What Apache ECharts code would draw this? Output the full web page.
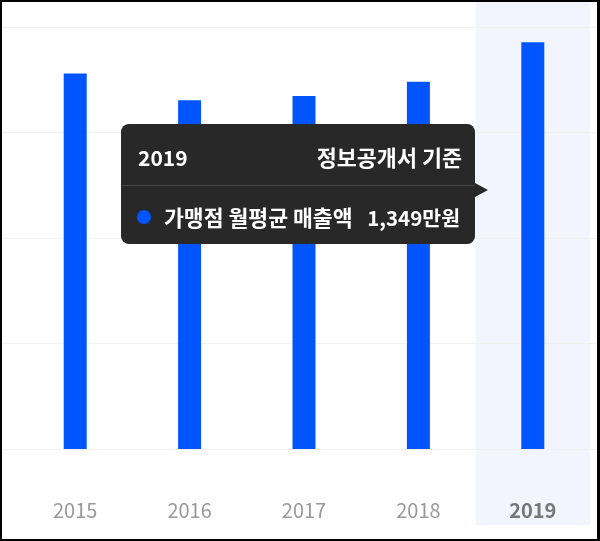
<!DOCTYPE html>
<html>
<head>
<meta charset="utf-8">
<script src="https://cdn.jsdelivr.net/npm/echarts@6/dist/echarts.min.js"></script>
<style>
  html, body { margin: 0; padding: 0; background: #fff; }
  #wrap { position: relative; width: 600px; height: 541px; }
  #chart { position: absolute; left: 0; top: 0; width: 600px; height: 541px; }
  #frame { position: absolute; left: 0; top: 0; width: 600px; height: 541px; box-sizing: border-box;
           border-style: solid; border-color: #000; border-width: 2px 3px 2px 2px; pointer-events: none; z-index: 99999; }
</style>
</head>
<body>
<div id="wrap"><div id="chart"></div><div id="frame"></div></div>
<script>
// ---- data ----
const categories = ['2015', '2016', '2017', '2018', '2019'];
const salesValues = [1246, 1157, 1171, 1218, 1349];
const seriesName = '가맹점 월평균 매출액';
const unitText = '만원';
const sourceText = '정보공개서 기준';
const highlightCategory = '2019';
const yTicks = [0, 350, 700, 1050, 1400];

const FONT = "'Noto Sans CJK KR', 'Noto Sans', sans-serif";
const BLUE = '#0055ff';
const TIP_BG = '#282828';
const hlIndex = categories.indexOf(highlightCategory);

const chart = echarts.init(document.getElementById('chart'));

function tipHtml(params) {
  const v = params.value.toLocaleString('en-US');
  return '<div style="position:relative;width:354px;box-sizing:border-box;font-family:' + FONT.replace(/"/g, '') + ';color:#fff;">' +
    '<div style="display:flex;justify-content:space-between;align-items:center;padding:20px 13px 15px 17px;line-height:26px;font-weight:700;border-bottom:1px solid #464646;">' +
      '<span style="font-size:21px;">' + params.name + '</span><span style="font-size:21.8px;white-space:nowrap;">' + sourceText + '</span></div>' +
    '<div style="display:flex;align-items:center;padding:18px 15px 14px 16px;line-height:26px;font-weight:700;">' +
      '<span style="display:inline-block;width:14px;height:14px;border-radius:50%;background:' + BLUE + ';margin-right:13px;flex:none;"></span>' +
      '<span style="flex:1;white-space:nowrap;font-size:21.6px;">' + params.seriesName + '</span>' +
      '<span style="white-space:nowrap;font-size:20.5px;">' + v + unitText + '</span></div>' +
    '<div style="position:absolute;right:-13px;top:59px;width:0;height:0;border-left:13px solid ' + TIP_BG + ';border-top:7px solid transparent;border-bottom:7px solid transparent;"></div>' +
  '</div>';
}

const option = {
  animation: false,
  textStyle: { fontFamily: FONT },
  grid: [
    { left: 2, right: 3, top: 27, bottom: 92 },   // gridlines
    { left: 18, right: 10, top: 2, bottom: 16 },  // highlight band
    { left: 18, right: 10, top: 27, bottom: 92 }  // bars
  ],
  xAxis: [
    { gridIndex: 0, type: 'value', min: 0, max: 1, show: false },
    { gridIndex: 1, type: 'category', data: categories, show: false },
    {
      gridIndex: 2, type: 'category', data: categories,
      axisLine: { show: false }, axisTick: { show: false },
      axisLabel: {
        margin: 51, fontSize: 20, color: '#999', fontFamily: FONT,
        formatter: function (v) { return v === highlightCategory ? '{b|' + v + '}' : v; },
        rich: { b: { fontSize: 20, fontWeight: 'bold', color: '#777', fontFamily: FONT } }
      }
    }
  ],
  yAxis: [
    {
      gridIndex: 0, type: 'value', min: yTicks[0], max: yTicks[yTicks.length - 1], interval: yTicks[1] - yTicks[0],
      z: 1, axisLine: { show: false }, axisTick: { show: false }, axisLabel: { show: false },
      splitLine: { show: true, lineStyle: { color: '#f1f1f1', width: 1 } }
    },
    { gridIndex: 1, type: 'value', min: 0, max: 1, show: false },
    {
      gridIndex: 2, type: 'value', min: yTicks[0], max: yTicks[yTicks.length - 1], interval: yTicks[1] - yTicks[0],
      axisLine: { show: false }, axisTick: { show: false }, axisLabel: { show: false }, splitLine: { show: false }
    }
  ],
  tooltip: {
    trigger: 'item',
    triggerOn: 'none',
    alwaysShowContent: true,
    transitionDuration: 0,
    padding: 0,
    backgroundColor: TIP_BG,
    borderColor: TIP_BG,
    borderWidth: 0,
    borderRadius: 8,
    extraCssText: 'box-shadow:none;border-radius:8px;',
    formatter: tipHtml,
    position: function (point, params, dom, rect, size) {
      const c = chart.convertToPixel({ xAxisIndex: 2 }, categories[params.dataIndex]);
      const c0 = chart.convertToPixel({ xAxisIndex: 2 }, categories[0]);
      const c1 = chart.convertToPixel({ xAxisIndex: 2 }, categories[1]);
      const band = c1 - c0;
      return [c - band / 2 - 1 - size.contentSize[0], 124];
    }
  },
  series: [
    {
      type: 'bar', xAxisIndex: 1, yAxisIndex: 1, silent: true, z: 0,
      tooltip: { show: false },
      barWidth: '100%',
      itemStyle: { color: '#f2f5fe' },
      data: categories.map(function (c) { return c === highlightCategory ? 1 : null; })
    },
    {
      type: 'bar', name: seriesName, xAxisIndex: 2, yAxisIndex: 2, z: 2,
      barWidth: 23,
      itemStyle: { color: BLUE },
      data: salesValues
    }
  ]
};

chart.setOption(option);
chart.dispatchAction({ type: 'showTip', seriesIndex: 1, dataIndex: hlIndex });
setTimeout(function () {
  chart.dispatchAction({ type: 'showTip', seriesIndex: 1, dataIndex: hlIndex });
}, 50);
</script>
</body>
</html>
